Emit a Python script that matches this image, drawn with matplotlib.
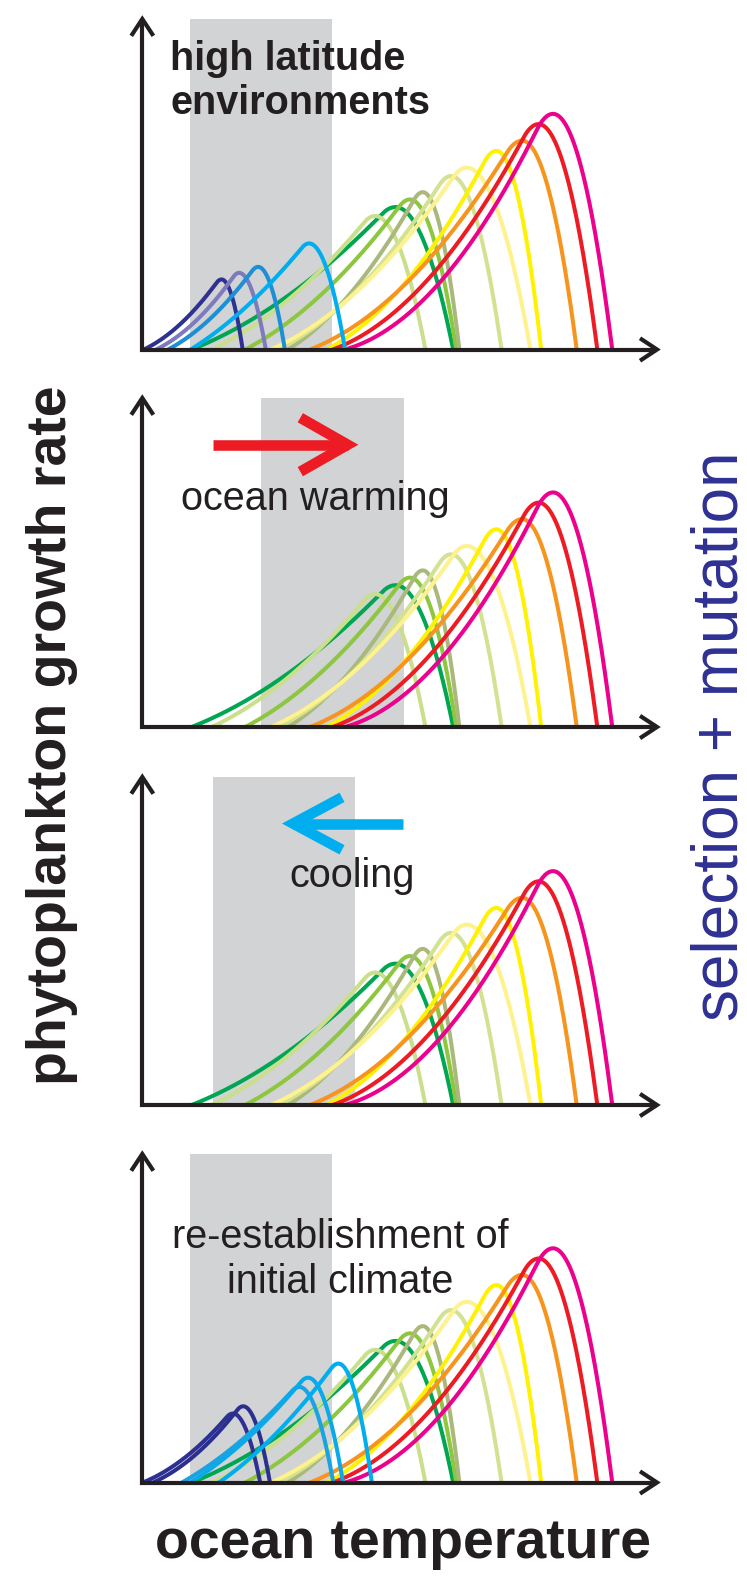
import numpy as np
import matplotlib
matplotlib.use("Agg")
import matplotlib.pyplot as plt
from matplotlib.patches import Rectangle

plt.rcParams['font.family'] = ['Liberation Sans', 'DejaVu Sans']

# ---------------------------------------------------------------------------
# Thermal performance curves: (lower limit, optimum, upper limit, peak rate,
# linearity of the rising limb). Temperature and growth rate are in arbitrary
# units (0-100 along each axis).
# ---------------------------------------------------------------------------

# Lineages that persist in every climate state
base_names = ["green", "pale green", "yellow green", "olive", "light green",
              "pale yellow", "yellow", "orange", "red", "magenta"]
base_tmin = [9.6, 13.5, 20.0, 28.3, 26.5, 25.0, 35.8, 32.6, 37.0, 39.4]
base_topt = [49.2, 45.2, 52.0, 54.5, 60.0, 63.0, 68.8, 73.8, 77.0, 79.8]
base_tmax = [60.4, 55.0, 61.0, 61.6, 69.8, 75.4, 77.5, 84.4, 88.4, 91.3]
base_peak = [43.1, 40.4, 45.4, 47.6, 52.5, 55.0, 60.1, 63.2, 68.2, 71.3]
base_lin = [1.2, 1.2, 1.2, 1.0, 0.9, 0.8, 0.7, 0.6, 0.45, 0.3]

# Cold-adapted lineages of the initial high-latitude community
cold_initial_tmin = [0.3, 2.7, 5.0, 9.4]
cold_initial_topt = [15.4, 18.8, 22.5, 32.4]
cold_initial_tmax = [19.5, 24.0, 27.7, 39.4]
cold_initial_peak = [21.2, 23.2, 25.0, 32.1]
cold_initial_lin = [1.0, 1.0, 1.2, 2.0]

# Cold-adapted lineages after the initial climate is re-established
cold_final_tmin = [0.1, 2.1, 7.7, 9.3, 14.9]
cold_final_topt = [17.6, 19.6, 30.5, 32.2, 38.1]
cold_final_tmax = [22.9, 24.8, 37.1, 39.0, 44.6]
cold_final_peak = [21.0, 23.2, 29.1, 31.9, 36.2]
cold_final_lin = [1.0, 1.0, 2.0, 2.0, 2.0]

# Temperature window of the local environment in each panel
window_lo = [9.3, 23.1, 13.8, 9.3]
window_hi = [36.9, 50.8, 41.4, 36.9]

# Styles
base_colors = ['#00a651', '#cadf8c', '#8dc63f', '#abb87c', '#d3e291',
               '#fdf28e', '#fff200', '#f7941d', '#ed1c24', '#ec008c']
cold_initial_colors = ['#2e3192', '#7d7bbd', '#1c8fd6', '#00aeef']
cold_final_colors = ['#2e3192', '#2b2f8e', '#1aa3e0', '#0aa9ea', '#00aeef']
INK = '#231f20'
GREY = '#d1d3d4'
CURVE_LW = 2.9
CAP = 0.3   # half-width of the rounded top, in units of the rising limb


def cap_join(lin, cap=CAP):
    """Where k*(u^2 + lin*u) meets the parabolic cap tangentially."""
    lo, hi = 1e-6, cap - 1e-6
    for _ in range(80):
        d = 0.5 * (lo + hi)
        u0 = 1.0 - d
        val = 2 * d * u0 * (u0 + lin) / (2 * u0 + lin) + d * d - cap * cap
        if val > 0:
            hi = d
        else:
            lo = d
    u0 = 1.0 - d
    k = 2 * d / (cap * cap * (2 * u0 + lin))
    return u0, k


def growth(T, tmin, topt, tmax, peak, lin):
    """Asymmetric thermal performance curve: slow rise, rounded top, steep fall."""
    T = np.asarray(T, dtype=float)
    u0, k = cap_join(lin)
    out = np.zeros_like(T)
    rise = T <= topt
    u = (T[rise] - tmin) / (topt - tmin)
    out[rise] = np.where(u <= u0, k * (u * u + lin * u),
                         1.0 - ((1.0 - u) / CAP) ** 2)
    fall = ~rise
    v = (T[fall] - topt) / (tmax - topt)
    out[fall] = 1.0 - v ** 2
    return peak * np.clip(out, 0, None)


def draw_curves(ax, tmin, topt, tmax, peak, lin, colors, z):
    for a, b, c, h, s, col in zip(tmin, topt, tmax, peak, lin, colors):
        T = np.linspace(a, c, 500)
        ax.plot(T, growth(T, a, b, c, h, s), color=col, lw=CURVE_LW,
                solid_capstyle='butt', zorder=z, clip_on=False)


def draw_axes_arrows(ax):
    ax.plot([0, 0, 100], [100, 0, 0], color=INK, lw=3.0,
            solid_joinstyle='miter', solid_capstyle='butt', zorder=10, clip_on=False)
    # open chevron heads
    ax.plot([96.7, 100, 96.7], [3.4, 0, -3.4], color=INK, lw=3.0,
            solid_joinstyle='miter', solid_capstyle='butt', zorder=10, clip_on=False)
    ax.plot([-2.15, 0, 2.15], [94.9, 100, 94.9], color=INK, lw=3.0,
            solid_joinstyle='miter', solid_capstyle='butt', zorder=10, clip_on=False)


def draw_shift_arrow(ax, tail, tip, y, head_dx, head_dy, color):
    ax.plot([tail, tip], [y, y], color=color, lw=7.6, solid_capstyle='butt',
            zorder=6, clip_on=False)
    back = tip - head_dx if tip > tail else tip + head_dx
    ax.plot([back, tip, back], [y + head_dy, y, y - head_dy], color=color, lw=7.6,
            solid_joinstyle='miter', solid_capstyle='butt', zorder=6, clip_on=False)


W, H = 747, 1585
fig = plt.figure(figsize=(W / 100, H / 100), dpi=100)
fig.patch.set_facecolor('white')

x_left, x_right = 142.3, 657.0
frames = [(19.0, 349.5), (398.0, 727.0), (777.0, 1105.0), (1154.0, 1482.5)]

axes = []
for i, (top, base) in enumerate(frames):
    ax = fig.add_axes([x_left / W, 1 - base / H, (x_right - x_left) / W, (base - top) / H])
    ax.set_xlim(0, 100)
    ax.set_ylim(0, 100)
    ax.axis('off')
    ax.add_patch(Rectangle((window_lo[i], 0), window_hi[i] - window_lo[i], 100,
                           facecolor=GREY, edgecolor='none', zorder=0))
    draw_curves(ax, base_tmin, base_topt, base_tmax, base_peak, base_lin,
                base_colors, 3)
    draw_axes_arrows(ax)
    axes.append(ax)

ax1, ax2, ax3, ax4 = axes

# Panel 1: initial high-latitude community
draw_curves(ax1, cold_initial_tmin, cold_initial_topt, cold_initial_tmax,
            cold_initial_peak, cold_initial_lin, cold_initial_colors, 4)
ax1.text(5.4, 84.5, "high latitude", fontsize=28.5, fontweight='bold',
         color=INK, ha='left', va='baseline', zorder=8)
ax1.text(5.4, 71.4, "environments", fontsize=28.5, fontweight='bold',
         color=INK, ha='left', va='baseline', zorder=8)

# Panel 2: warming
draw_shift_arrow(ax2, 13.8, 39.9, 85.8, 9.2, 8.2, '#ed1c24')
ax2.text(7.6, 65.9, "ocean warming", fontsize=28.5, color=INK,
         ha='left', va='baseline', zorder=8)

# Panel 3: cooling
draw_shift_arrow(ax3, 50.7, 29.3, 85.8, 9.5, 8.0, '#00aeef')
ax3.text(28.5, 66.4, "cooling", fontsize=28.5, color=INK,
         ha='left', va='baseline', zorder=8)

# Panel 4: back to the initial climate
draw_curves(ax4, cold_final_tmin, cold_final_topt, cold_final_tmax,
            cold_final_peak, cold_final_lin, cold_final_colors, 4)
ax4.text(38.4, 71.4, "re-establishment of", fontsize=28.5, color=INK,
         ha='center', va='baseline', zorder=8)
ax4.text(38.4, 57.8, "initial climate", fontsize=28.5, color=INK,
         ha='center', va='baseline', zorder=8)

# Figure-level labels
fig.text(52 / W, 1 - 735 / H, "phytoplankton growth rate", rotation=90,
         fontsize=40, fontweight='bold', color=INK, ha='center', va='center')
fig.text(720 / W, 1 - 736 / H, "selection + mutation", rotation=90,
         fontsize=46, color='#2e3192', ha='center', va='center')
fig.text(403 / W, 1 - 1558 / H, "ocean temperature", fontsize=40,
         fontweight='bold', color=INK, ha='center', va='baseline')

fig.savefig('out.png', dpi=100, facecolor='white')
